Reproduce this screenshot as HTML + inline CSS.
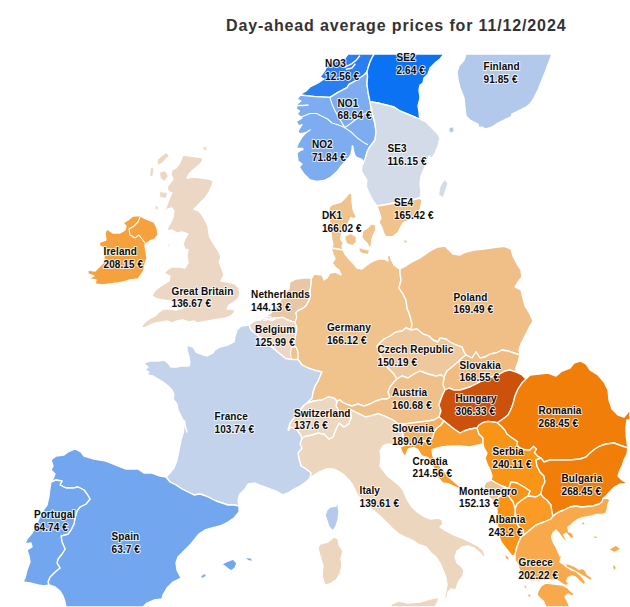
<!DOCTYPE html>
<html><head><meta charset="utf-8"><title>Day-ahead average prices</title>
<style>
html,body{margin:0;padding:0;background:#fff;}
body{width:630px;height:607px;overflow:hidden;font-family:"Liberation Sans",sans-serif;}
svg{display:block;}
.t{font-family:"Liberation Sans",sans-serif;font-weight:bold;font-size:16px;fill:#333;letter-spacing:0.86px;}
.l{font-family:"Liberation Sans",sans-serif;font-weight:bold;font-size:10px;fill:#0a0a0a;stroke:rgba(255,255,255,0.8);stroke-width:2px;stroke-linejoin:round;paint-order:stroke;letter-spacing:0.1px;}
.c path{stroke:#fff;stroke-width:1.35;stroke-linejoin:round;}
.f path{fill:none;stroke:#fff;stroke-width:1.4;stroke-linejoin:round;stroke-linecap:round;}
.b path{fill:none;stroke:#fff;stroke-width:1.1;stroke-linejoin:round;stroke-linecap:round;}
</style></head><body>
<svg width="630" height="607" viewBox="0 0 630 607">
<rect width="630" height="607" fill="#fff"/>
<defs><clipPath id="cp"><rect x="0" y="54" width="630" height="553"/></clipPath></defs>
<g class="c" clip-path="url(#cp)">
<path fill="#2B7EF1" d="M348 54 L345 58 L340 60 L334 62 L327 65 L325 70 L320 77 L324 79 L318 83 L310 87 L306 91 L300 94.5 L300 95 L315 96.6 L330 97.4 L338 92.4 L347 87.6 L349 84.4 L357 80 L364 75 L367 72 L368 68 L370 62 L372.4 57 L374.4 54Z"/>
<path fill="#7DACF0" d="M300 95 L315 96.6 L330 97.4 L338 92.4 L347 87.6 L349 84.4 L357 80 L364 75 L367 72 L367.6 76 L367 84 L368 92 L370 101.6 L371 108 L373 116 L375 124 L376 132 L375 140 L372 144 L369 148 L367 152 L366 156 L365 159 L363.5 162.7 L362 159.5 L357 157.6 L354.6 155 L353.3 150 L352.8 146 L352.2 146 L352 150 L350.8 155 L347 160 L342 165 L337 171.6 L330.5 177.3 L324 180.5 L317 181.3 L310 180 L304 174 L300 168 L298 162 L298.7 167.5 L302 164 L298 161 L297 153 L302.7 148.5 L296.3 148.5 L298 143.7 L302 137 L306 132.6 L299.5 134 L298 131 L302 124.7 L298.7 126 L296.3 121.5 L302 118 L297 114 L299.5 111 L296.3 109 L297 104 L301 101 L297 99 L299.5 96Z"/>
<path fill="#0B73F3" d="M374.4 54 L444 54 L440 59 L436 62 L430 68 L428 74 L424 78 L423 83 L420 85 L419 90 L420 98 L419 102 L418 106 L419 112 L419.6 119 L410 115 L400 111 L394 107 L386 105 L378 103 L370 101.6 L368 92 L367 84 L367.6 76 L367 72 L368 68 L370 62 L372.4 57Z"/>
<path fill="#D3DBE9" d="M370 101.6 L378 103 L386 105 L394 107 L400 111 L410 115 L419.6 119 L426 122 L432 128 L437 133 L440 138 L438 146 L435 153 L432 158 L429 156 L427 163 L424 169 L421 176 L420 184 L421 192 L420 198 L412 200 L404 201 L394 203 L384 205 L377 206 L374.3 202.5 L371 197 L368.4 191.8 L366.3 186.4 L366.8 180 L364 175.7 L361.4 171.4 L362 166 L363.5 162.7 L365 159 L366 156 L367 152 L369 148 L372 144 L375 140 L376 132 L375 124 L373 116 L371 108Z"/>
<path fill="#F0C28C" d="M377 206 L384 205 L394 203 L404 201 L412 200 L420 198 L422 200.7 L420.3 209 L416 215.6 L409.5 220 L403.5 222.5 L401 226.5 L398 232.5 L394.5 235.5 L393 236.3 L386 237 L384 234 L382 228 L379 222 L381 218 L379 212Z"/>
<path fill="#D3DBE9" style="stroke-width:0.3" d="M440 188 L442.5 183 L445 179.8 L447.4 183.5 L445.4 190 L443 197.2 L439 194.8Z"/>
<path fill="#B3C9EB" style="stroke-width:0.3" d="M449.3 128 L453 127.3 L453.8 131 L451 132.8 L449.3 131Z"/>
<path fill="#F0C28C" style="stroke-width:0.3" d="M404 240 L407 241 L406 243 L404 242Z"/>
<path fill="#B3C9EB" d="M466 54 L464 60 L459 66 L457 72 L458 80 L460 88 L464 98 L465 108 L466 116 L470 120 L478 124 L479 128 L482 127 L486 129 L492 127 L498 123 L506 119 L511 117 L512 114 L518 111 L526 107 L530 104 L534 98 L538 90 L542 80 L546 70 L549 62 L552 54Z"/>
<path fill="#F0C28C" d="M350 192 L352 195 L352 201 L353 209 L355 214 L356.5 217 L353 219 L351 217.5 L349 221 L347.5 226 L346 230 L342 233 L340.5 239 L343.5 243 L342 246 L343 250 L331 248 L333 245 L331.6 239 L331 233 L330 226 L329 218 L328.5 210 L330 206 L334 204 L341 202 L345 198Z"/>
<path fill="#F0C28C" style="stroke-width:0.3" d="M345.5 236.5 L350.7 234 L355.8 237 L356 242 L352.5 245 L347.5 243.8 L345.5 240Z"/>
<path fill="#F0C28C" d="M362.6 231 L367.4 227.9 L371.3 223.9 L375.3 224.7 L376 229.4 L373.7 234.2 L372 239 L371.3 245.3 L369.8 249.3 L367.4 243.7 L364.2 240.6 L361.8 237.4Z"/>
<path fill="#F0C28C" style="stroke-width:0.3" d="M359.5 248 L364 249.5 L369 250.5 L368 254 L362.6 253.2 L359.5 251Z"/>
<path fill="#F5A13D" d="M133 216 L140 215.6 L144 218 L149 220 L154 222 L157 228 L158 235 L155 239 L150 241 L147 243 L145 245 L146 252 L147 258 L145 264 L144 270 L141 275 L138 279 L130 280 L124 282 L118 283 L110 284 L102 285 L95 284 L96 280 L89 279 L94 276 L88 274 L88 270 L95 271 L100 266 L104 262 L104 255 L103 248 L99 245 L100 242 L106 240 L105 233 L107 229 L113 233 L120 233 L125 230 L126 226 L123 223 L128 220Z"/>
<path fill="#EBD7C3" d="M183 155 L190 156 L198 157 L203 158 L202 162 L198 166 L193 170 L189 174 L187 178 L194 177 L202 178 L209 179 L213 181 L212 186 L209 192 L205 198 L201 202 L198 205 L194 209 L199 211 L202 215 L205 220 L208 226 L209 234 L210 238 L215 246 L219 252 L221 257 L219 262 L222 269 L224 275 L221 281 L228 282 L235 284 L239 288 L240 294 L238 299 L234 302 L229 305 L227 309 L233 309 L235 312 L231 316 L226 318 L220 319 L214 320 L208 321 L202 322 L198 323 L194 321 L189 322 L183 320 L177 321 L172 323 L168 321 L162 322 L156 323 L150 325 L144 328 L141 327 L144 323 L149 319 L155 316 L159 312 L164 309 L170 309 L176 310 L183 308 L178 304 L170 301 L163 300 L157 299 L152 296 L154 292 L158 288 L164 284 L169 281 L170 276 L164 273 L168 269 L172 267 L180 267 L185 268 L188 263 L187 256 L188 250 L185 249 L183 244 L185 239 L188 234 L182 232 L177 233 L172 230 L167 231 L168 227 L171 222 L173 217 L174 211 L172 208 L168 209 L164 213 L166 208 L168 202 L170 197 L172 193 L168 191 L167 187 L170 183 L173 179 L171 175 L172 170 L176 168 L179 164 L181 160Z"/>
<path fill="#EBD7C3" style="stroke-width:0.3" d="M157.5 160 L162 156 L166 153 L169 155.5 L165 159.5 L162 163 L158 165Z"/>
<path fill="#EBD7C3" style="stroke-width:0.3" d="M160 172.5 L165 171 L168 176 L164.5 181 L160.5 178Z"/>
<path fill="#EBD7C3" style="stroke-width:0.3" d="M151 167.5 L153.5 168.5 L152.5 176.5 L150 175.5Z"/>
<path fill="#EBD7C3" style="stroke-width:0.3" d="M155.5 206 L158 206.5 L157.5 210 L155.5 209Z"/>
<path fill="#EBD7C3" style="stroke-width:0.3" d="M160 192 L167 193 L166 198 L160 197Z"/>
<path fill="#EBD7C3" style="stroke-width:0.3" d="M203.5 146.5 L206.5 147.5 L206.5 150.5 L203.5 149.5Z"/>
<path fill="#EBD7C3" style="stroke-width:0.3" d="M170 243 L168 246 L169 247Z"/>
<path fill="#E9C7A6" d="M290 282 L296 279 L304 278 L310 278 L311.5 278.5 L311 285 L310 290.4 L310.5 295.5 L309 300.5 L307 304.4 L304.8 307 L302 308.8 L299 310 L296 312.5 L296.8 317.5 L296 322 L295 322 L292 321.4 L287.6 320 L283 317.5 L276.5 318 L272 320.6 L267 319 L264 318 L260.6 320 L260 319 L264 317 L270 314 L276 306 L284 296 L289 288Z"/>
<path fill="#ECD6C4" d="M249 325 L255 320.6 L260.6 320 L264 318 L267 319 L272 320.6 L276.5 318 L283 317.5 L287.6 320 L292 321.4 L295 322 L297 328.5 L295.5 336.5 L294 346 L291.6 347.6 L290.8 354 L292 359.5 L286 358.7 L280 354 L274 349 L268 344 L262 339 L256 334 L251 330Z"/>
<path fill="#F0C28C" style="stroke-width:0.3" d="M291.6 347.6 L296 347 L298 352 L298 359.5 L292 359.5 L290.8 354Z"/>
<path fill="#F0C28C" d="M331 248 L343 250 L345 254 L349 259 L354 264 L357 268 L362 269 L367 265 L373 261 L379 259 L384 259 L388 261 L387 256 L390 255 L391 259 L394 265 L398 268 L400 269 L400 273 L401 280 L399 288 L403 294 L406 300 L407 308 L410 316 L412 324 L411 330 L406 328 L402 331 L396 332 L390 336 L384 339 L380 343 L377 346 L379 352 L383 360 L388 368 L394 374 L397 379 L394 382 L390 387 L388 392 L390 397 L387 399 L382 399 L376 401 L370 404 L364 406 L358 404 L352 406 L346 404 L342 402 L340 400 L337 401 L334 398 L328 397 L322 400 L314 401 L307 403 L312 398 L313 392 L315 386 L318 381 L320 376 L321.7 372 L316 370.6 L308 368 L302 365 L298 359.5 L298 352 L296 347 L294 346 L295.5 336.5 L297 328.5 L295 322 L296.8 317.5 L296 312.5 L299 310 L302 308.8 L304.8 307 L307 304.4 L309 300.5 L310.5 295.5 L310 290.4 L311 285 L311.5 278.5 L314 274 L322 275 L324 280 L327 278 L330 273 L335 272 L341 275 L339 270 L335 267 L332 263 L335 259 L333 254Z"/>
<path fill="#F0BF88" d="M400 269 L404 267 L412 262 L420 258 L430 251 L438 247 L445 246 L449 250 L453 254 L460 255 L466 252 L474 250 L484 249 L494 247.6 L504 246.4 L511 249 L513 256 L517 264 L521 270 L522 277 L518 282 L515 287 L521 290 L523 298 L525 306 L530 314 L533 321 L530 326 L527 332 L524 338 L521 344 L519 350 L520 355 L514 353 L508 351 L502 350 L496 353 L490 354 L485 357 L480 358 L476 352 L472 358 L466 355 L464 352 L462 347 L456 345 L450 342 L446 339 L440 338 L438 342 L433 340 L429 336 L423 334 L417 329 L411 330 L412 324 L410 316 L407 308 L406 300 L403 294 L399 288 L401 280 L400 273Z"/>
<path fill="#EFC89E" d="M411 330 L417 329 L423 334 L429 336 L433 340 L438 342 L440 338 L446 339 L450 342 L456 345 L462 347 L464 352 L466 355 L462 358 L458 362 L452 367 L447 371 L444 377 L441 375 L436 376 L428 374 L420 371 L414 374 L408 378 L402 376 L397 379 L394 374 L388 368 L383 360 L379 352 L377 346 L380 343 L384 339 L390 336 L396 332 L402 331 L406 328Z"/>
<path fill="#F0BC82" d="M466 355 L472 358 L476 352 L480 358 L485 357 L490 354 L496 353 L502 350 L508 351 L514 353 L520 355 L518 362 L516 368 L516 372 L510 370 L505 371 L498 375 L488 378 L478 383 L470 387 L460 390 L454 390 L449 388 L445 390 L443 385 L444 377 L447 371 L452 367 L458 362 L462 358Z"/>
<path fill="#F0C08A" d="M397 379 L402 376 L408 378 L414 374 L420 371 L428 374 L436 376 L441 375 L444 377 L443 385 L445 390 L443 394 L441 399 L439 405 L441 411 L439 417 L434 420 L428 421 L420 422 L412 423 L404 424 L398 424 L393 420 L385.7 416.6 L378.6 413.7 L371.4 415.7 L365.7 417 L358.6 413.7 L351.4 410 L346 411 L342 414 L339 411 L336 406 L337 401 L340 400 L342 402 L346 404 L352 406 L358 404 L364 406 L370 404 L376 401 L382 399 L387 399 L390 397 L388 392 L390 387 L394 382Z"/>
<path fill="#CC510A" d="M445 390 L449 388 L454 390 L460 390 L470 387 L478 383 L488 378 L498 375 L505 371 L510 370 L516 372 L522 375 L526 379 L522 383 L518 389 L515 396 L513 404 L510.6 410 L508 415 L503 419 L497.3 422.7 L493 422 L487.8 421.4 L482.7 422.7 L479 425 L477 428 L470 429 L464 431 L460 433 L454 429 L449 425 L444 421 L439 417 L441 411 L439 405 L441 399 L443 394Z"/>
<path fill="#F6AE60" d="M404 424 L412 423 L420 422 L428 421 L434 420 L439 417 L444 421 L441 425 L437 428 L434 432 L433 437 L430 441 L424 441 L418 443 L412 444 L408 445 L404 445.5 L400.4 446.5 L401 441 L403 436 L402 430Z"/>
<path fill="#F89E30" d="M444 421 L449 425 L454 429 L460 433 L464 431 L470 429 L477 428 L479 434 L483 438 L483 444 L478 445 L470 447 L460 446 L450 446 L442 447 L437.6 448 L432 449.7 L432.9 456 L436 460 L440 466 L445 472 L449 477.3 L453.7 481.3 L458.5 485.2 L461 487.6 L466 489.5 L472 491.5 L478 493.5 L478 495.5 L470 493.5 L462 490.5 L457.7 488 L453.7 486.3 L449 484 L442.6 483 L437.9 477.5 L434 468.5 L431 462 L428 457.6 L421.7 456 L417.8 449.7 L413.8 447.5 L408.4 448.8 L407 452 L405.5 456.5 L403 454 L401 450 L400.4 446.5 L404 445.5 L408 445 L412 444 L418 443 L424 441 L430 441 L433 437 L434 432 L437 428 L441 425Z"/>
<path fill="#F99516" d="M477 428 L479 425 L482.7 422.7 L487.8 421.4 L493 422 L497.3 422.7 L501.7 426.5 L505 430.3 L507 434 L510.6 436.7 L515 439.8 L517.6 441.7 L517 445 L519.5 447.5 L524 449.5 L529.7 450 L533.5 446.2 L536.5 449 L534.5 452.5 L537.5 456 L541 458 L536 460 L537 466 L540 472 L544 476 L545 482 L542 488 L541 494 L536 497 L528 496 L530 491 L524 487 L517 483 L511 482 L509 488 L507 488 L502 486 L496 483 L491 480 L492 476 L490 470 L487 464 L485 458 L487 453 L484 448 L483 444 L483 438 L479 434Z"/>
<path fill="#F99516" d="M511 482 L517 483 L524 487 L530 491 L528 496 L522 500 L517 504 L515 509 L513 502 L510 498 L507 494 L509 488Z"/>
<path fill="#FB9A24" d="M517 504 L522 500 L528 496 L536 497 L541 494 L543 497 L547 500 L551 505 L552 512 L553 516 L551 519 L544 522 L536 525 L530 530 L524 535 L523 530 L518 526 L515 518 L515 509Z"/>
<path fill="#ECC49A" d="M484 486 L486 482 L491 480 L496 483 L502 486 L507 488 L509 488 L507 494 L500 496 L498 498 L496 504 L492 500 L488 496 L485 492Z"/>
<path fill="#F99215" d="M500 496 L507 494 L510 498 L513 502 L515 509 L515 518 L518 526 L523 530 L524 535 L521 537 L518 544 L516 550 L515 555 L512 556 L508 551 L504 546 L501 542 L499 536 L498 528 L497 520 L497 510 L496 504 L498 498Z"/>
<path fill="#F07E08" d="M526 379 L530 375 L539 374 L548 373 L556 376 L562 371 L570 368 L574 363 L580 361 L586 364 L590 370 L598 375 L604 382 L608 390 L609 400 L612 409 L618 415 L624 417 L630 410 L630 420 L627 420 L626 426 L626 434 L627 442 L628 448 L622 446 L614 443 L606 444 L600 446 L595 449 L590 453 L586 457 L580 459 L570 460 L560 460 L550 460 L544 462 L541 458 L537.5 456 L534.5 452.5 L536.5 449 L533.5 446.2 L529.7 450 L524 449.5 L519.5 447.5 L517 445 L517.6 441.7 L515 439.8 L510.6 436.7 L507 434 L505 430.3 L501.7 426.5 L497.3 422.7 L503 419 L508 415 L510.6 410 L513 404 L515 396 L518 389 L522 383Z"/>
<path fill="#F07E08" d="M541 458 L544 462 L550 460 L560 460 L570 460 L580 459 L586 457 L590 453 L595 449 L600 446 L606 444 L614 443 L622 446 L628 448 L627 454 L624 460 L622 466 L620 470 L618 476 L622 480 L628 483.6 L620 484 L614.5 487 L610 491.5 L606 496 L603 498.6 L602 502 L599 504 L593 506 L587 506.5 L581.5 507 L576 506 L570 507 L564 510 L558.6 512 L553 516 L552 512 L551 505 L547 500 L543 497 L541 494 L542 488 L545 482 L544 476 L540 472 L537 466 L536 460Z"/>
<path fill="#F8A94C" d="M524 535 L530 530 L536 525 L544 522 L551 519 L553 516 L558.6 512 L564 510 L570 507 L576 506 L581.5 507 L587 506.5 L593 506 L599 504 L602 502 L603 498.6 L607 498 L610 500 L608 504 L607 510 L606 513 L603 514.4 L597 514.4 L591.6 516 L586 517 L581.5 518 L578 519.4 L574 522 L571 525 L568 527 L568.6 531.6 L572 533 L574 537 L571.5 539 L568.6 536 L566 533 L563.6 535 L566.5 539.5 L565 541 L561.5 537 L558.6 533 L556 530 L553 533 L551.5 537 L553.6 543 L556 547 L558 551.6 L560 556 L564 555.4 L561 558 L560 562 L563 564 L566.7 567 L571.4 570 L575.4 571 L579.4 574.4 L582.5 577.6 L585.7 582.4 L584 585 L579.4 581 L575.4 577 L571.4 576 L568 577.6 L566.7 581 L569 584 L566.7 585.6 L562 584 L558.7 581 L552 580 L546 580.5 L540 581 L532 581 L526 580.5 L522 577 L519.5 570 L517.5 564 L515 560 L515 555 L516 550 L518 544 L521 537Z"/>
<path fill="#F8A94C" style="stroke-width:0.3" d="M566 564 L570 565 L574.6 567 L579 570 L582.5 569 L585 571 L587 575 L591 577.6 L592 580 L589 579 L584 576 L579 573 L574.6 570.5 L570 568 L566.7 566.5Z"/>
<path fill="#F8A94C" d="M546 583 L554 584 L562 585 L568 588 L570.6 591 L574.6 594 L572 596 L568 594 L565 596.7 L567.5 601.4 L570 607 L546 607 L543.6 601.4 L539.7 598 L537 595 L538 591 L541 586Z"/>
<path fill="#F8A94C" style="stroke-width:0.3" d="M609.5 549.5 L616 545.8 L620 549 L614.5 552Z"/>
<path fill="#F8A94C" style="stroke-width:0.3" d="M614 565 L616 568 L614 570 L613 566Z"/>
<path fill="#F8A94C" style="stroke-width:0.3" d="M524.5 585 L526 586 L526.5 588.5 L524.5 587.5Z"/>
<path fill="#F8A94C" style="stroke-width:0.3" d="M505.5 555 L508.5 557.5 L508.5 560 L505.5 558Z"/>
<path fill="#F8A94C" style="stroke-width:0.3" d="M528.5 594 L530.5 595 L530 597 L528 596Z"/>
<path fill="#F8A94C" style="stroke-width:0.3" d="M582 522.5 L584.5 522.5 L584 524.5 L582 524Z"/>
<path fill="#F8A94C" style="stroke-width:0.3" d="M594 536.5 L597 536.5 L596.5 538 L594 538Z"/>
<path fill="#ECD6BE" d="M303 484 L306 482 L310 478 L311 473 L306 469 L301 466 L299 459 L298 453 L302 448 L300 444 L302 438 L306 436 L312 435 L318 433 L324 434 L329 439 L333 437 L336 429 L339 423 L344 427 L348.6 424 L351.4 417 L350 410 L351.4 410 L358.6 413.7 L365.7 417 L371.4 415.7 L378.6 413.7 L385.7 416.6 L393 420 L398 424 L404 424 L402 430 L403 436 L401 441 L400.4 446.5 L398 446 L394 445 L388 444 L383 446 L380 451 L381 458 L380 466 L383 470 L387.6 476 L394 481 L400 486 L404 492 L406.7 498.6 L411.4 506.5 L417.8 512.5 L425 517 L431 519 L438 518 L442 520 L443 524 L440 527 L446 531 L454 535 L462 538 L470 542 L478 546 L483 550 L485 555 L484 558 L480 553 L474 548 L468 546 L462 547 L457 551 L455 557 L457 563 L461 566 L464 570 L463 576 L459 581 L457 586 L456 590 L451 589 L448 592 L447 598 L445 601 L445 595 L446 590 L447 585 L446 578 L443 570 L440 563 L436 557 L431 553 L426 547 L420 545 L412 540 L405 537 L399 534 L392 528 L386 522 L380 516 L374 511 L368 506 L362 500 L358 496 L355 490 L352 484 L348 479 L343 474 L338 471 L333 469 L326 469 L319 472 L313 476 L308 480Z"/>
<path fill="#ECD6BE" d="M334 537 L338 539 L339 545 L343 551 L341 559 L342 566 L340 574 L336 580 L330 584 L325 585 L322 576 L323 566 L320 556 L318 548 L320 544 L328 542Z"/>
<path fill="#ECD6BE" d="M392 604 L399 601 L408 603 L420 602 L430 599 L439 597 L438 601 L435 607 L390 607Z"/>
<path fill="#ECD7C0" d="M307 403 L314 401 L322 400 L328 397 L334 398 L337 401 L336 406 L339 411 L342 414 L346 411 L350 410 L351.4 417 L348.6 424 L344 427 L339 423 L336 429 L333 437 L329 439 L324 434 L318 433 L312 435 L306 436 L302 438 L300 434 L297 430 L291 427 L289 430 L288 430 L290 423 L293 419 L300 410 L304 405Z"/>
<path fill="#C3D3EB" d="M249 325 L251 330 L256 334 L262 339 L268 344 L274 349 L280 354 L286 358.7 L292 359.5 L298 359.5 L302 365 L308 368 L316 370.6 L321.7 372 L320 376 L318 381 L315 386 L313 392 L312 398 L307 403 L304 405 L300 410 L293 419 L290 423 L288 430 L289 430 L291 427 L297 430 L300 434 L302 438 L300 444 L302 448 L298 453 L299 459 L301 466 L306 469 L311 473 L310 478 L306 482 L303 484 L300 486 L294 489 L288 493 L283 495 L278 492 L270 489 L262 486 L255 483 L248 484 L245 489 L240 494 L238 500 L239 506 L234 505 L228 505 L222 503 L216 501 L212 499 L206 496 L200 494 L194 495 L188 492 L182 489 L176 485 L170 482 L166 477 L169 474 L174 468 L177 460 L179 450 L181 440 L183.5 432 L184 426 L184 422 L181 416 L178 410 L177 404 L173 399 L174 395 L172 390 L168 386 L163 382 L158 379 L153 376 L147 375 L149 372 L145 370 L148 367 L143 363 L150 361 L158 361 L164 360 L168 363 L171 367 L176 367 L182 366 L189 366 L190 363 L189 357 L187 350 L187 345 L193 347 L196 352 L201 354 L207 356 L213 353 L215 350 L220 347 L228 345 L234 342 L235 336 L237 330 L241 326Z"/>
<path fill="#B4C9EB" d="M336.5 500 L337.5 500 L338 506 L339 512 L338 520 L336 526 L333 531 L329 527 L327 521 L325 515 L327 510 L330 507 L336 506Z"/>
<path fill="#72A7F0" d="M75 449 L81 452 L84 456 L94 459 L106 461 L116 465 L126 469 L138 469 L144 473 L152 473 L160 476 L166 477 L170 482 L176 485 L182 489 L188 492 L194 495 L200 494 L206 496 L212 499 L216 501 L222 503 L228 505 L234 505 L239 506 L239 512 L234 518 L228 522 L220 526 L212 528 L205 530 L199 534 L195 539 L190 545 L184 551 L178 557 L176 563 L177 570 L181 578 L173 582 L167 588 L163 595 L162 599 L154 600 L147 603 L143 607 L66 607 L65 602 L63 596 L60 591 L55 587 L49 585 L48 582 L50 577 L55 572 L60 568 L57 563 L58 559 L62 554 L65 549 L62 542 L61 536 L68 534 L71 530 L74 524 L75 518 L77 511 L80 507 L86 504 L90 499 L87 494 L84 490 L78 487 L73 488 L66 488 L60 485 L62 481 L56 480 L51 482 L53 479 L55 474 L51 470 L53 466 L51 460 L56 456 L64 455 L68 452Z"/>
<path fill="#72A7F0" d="M222 564 L228 561 L233 559 L237 563 L235 568 L231 571 L227 568Z"/>
<path fill="#72A7F0" style="stroke-width:0.3" d="M201 576 L205 574 L206 576 L202 578Z"/>
<path fill="#72A7F0" style="stroke-width:0.3" d="M246 558 L251 558.5 L252 561 L248 560Z"/>
<path fill="#72A7F0" d="M51 482 L56 480 L62 481 L60 485 L66 488 L73 488 L78 487 L84 490 L87 494 L90 499 L86 504 L80 507 L77 511 L75 518 L74 524 L71 530 L68 534 L61 536 L62 542 L65 549 L62 554 L58 559 L57 563 L60 568 L55 572 L50 577 L48 582 L49 585 L44 586 L38 585 L30 583 L23 582 L25 578 L27 570 L30 562 L29 556 L27 550 L32 547 L31 543 L25 544 L27 539 L32 533 L37 523 L42 512 L47 505 L49 496 L50 488Z"/>
</g>
<g class="b" clip-path="url(#cp)">
<path d="M330 97.8 L332 104 L334.6 110 L339 118 L344.8 127.6"/>
<path d="M297 119 L302.5 116.6 L310 113.5 L316.6 113.5 L321 115.8 L327.6 119 L332 123 L338.5 125 L344.8 127.6"/>
<path d="M344.8 127.6 L351 132 L357 137.7 L363.6 142.4 L367.5 144.5"/>
<path d="M344.8 127.6 L350 124 L355 120 L362 115 L372.5 110"/>
<path d="M140 217 L138 222 L134 226 L129 229 L130 235 L135 238 L139 235 L142 239 L145 243"/>
</g>
<g class="f" clip-path="url(#cp)">
<path d="M359.6 56 L356.4 60 L352 63.6 L348 65.7 L345 67"/>
<path d="M355 64.3 L352 68 L346.4 69.3"/>
<path d="M296.5 105.5 L303 105.5 L308 105"/>
<path d="M298.5 137.8 L304 134 L310 130"/>
<path d="M297 151 L303 149.5"/>
<path d="M184.5 421 L185.5 427 L187 432"/>
<path d="M261 318 L266 316.5 L271 316.8"/>
<path d="M283 289.5 L286 289 L289 289.5"/>
<path d="M264 320.3 L270 319 L275 317.5"/>
</g>
<text class="t" x="226" y="30.5">Day-ahead average prices for 11/12/2024</text>
<g class="l">
<text x="325.1" y="67.4">NO3</text><text x="325.1" y="80">12.56 €</text>
<text x="337.5" y="106.8">NO1</text><text x="337.5" y="119.4">68.64 €</text>
<text x="311.9" y="148.4">NO2</text><text x="311.9" y="161">71.84 €</text>
<text x="396.5" y="61.4">SE2</text><text x="396.5" y="74">2.64 €</text>
<text x="387.5" y="152">SE3</text><text x="387.5" y="164.6">116.15 €</text>
<text x="393.9" y="206.4">SE4</text><text x="393.9" y="219">165.42 €</text>
<text x="483.5" y="70">Finland</text><text x="483.5" y="82.6">91.85 €</text>
<text x="321.9" y="219.4">DK1</text><text x="321.9" y="232">166.02 €</text>
<text x="103.5" y="255.4">Ireland</text><text x="103.5" y="268">208.15 €</text>
<text x="171.5" y="294.8">Great Britain</text><text x="171.5" y="307.4">136.67 €</text>
<text x="251.1" y="298">Netherlands</text><text x="251.1" y="310.6">144.13 €</text>
<text x="255.1" y="333.4">Belgium</text><text x="255.1" y="346">125.99 €</text>
<text x="326.9" y="331.4">Germany</text><text x="326.9" y="344">166.12 €</text>
<text x="453.5" y="300.8">Poland</text><text x="453.5" y="313.4">169.49 €</text>
<text x="377.5" y="353.4">Czech Republic</text><text x="377.5" y="366">150.19 €</text>
<text x="459.5" y="368.8">Slovakia</text><text x="459.5" y="381.4">168.55 €</text>
<text x="392.1" y="396.4">Austria</text><text x="392.1" y="409">160.68 €</text>
<text x="455.5" y="402.4">Hungary</text><text x="455.5" y="415">306.33 €</text>
<text x="538.5" y="414">Romania</text><text x="538.5" y="426.6">268.45 €</text>
<text x="391.9" y="432">Slovenia</text><text x="391.9" y="444.6">189.04 €</text>
<text x="293.9" y="416.8">Switzerland</text><text x="293.9" y="429.4">137.6 €</text>
<text x="214.5" y="420.4">France</text><text x="214.5" y="433">103.74 €</text>
<text x="412.5" y="464.8">Croatia</text><text x="412.5" y="477.4">214.56 €</text>
<text x="492.5" y="455.4">Serbia</text><text x="492.5" y="468">240.11 €</text>
<text x="561.5" y="482">Bulgaria</text><text x="561.5" y="494.6">268.45 €</text>
<text x="459.1" y="494.8">Montenegro</text><text x="459.1" y="507.4">152.13 €</text>
<text x="488.5" y="523">Albania</text><text x="488.5" y="535.6">243.2 €</text>
<text x="518.5" y="566.4">Greece</text><text x="518.5" y="579">202.22 €</text>
<text x="359.5" y="494.4">Italy</text><text x="359.5" y="507">139.61 €</text>
<text x="33.9" y="518">Portugal</text><text x="33.9" y="530.6">64.74 €</text>
<text x="111.5" y="540.4">Spain</text><text x="111.5" y="553">63.7 €</text>
</g>
</svg>
</body></html>
